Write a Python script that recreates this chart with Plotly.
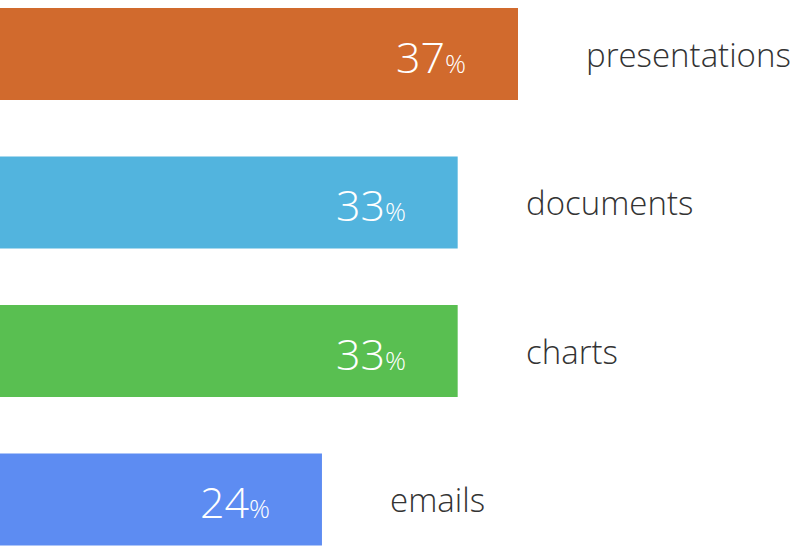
import plotly.graph_objects as go

# data
categories = ['presentations', 'documents', 'charts', 'emails']
values = [37, 33, 33, 24]
colors = ['#D16A2D', '#52B4DE', '#59BF51', '#5D8CF2']

fig = go.Figure()
fig.add_trace(go.Bar(
    x=values, y=categories, orientation='h',
    marker=dict(color=colors, line=dict(width=0)),
    width=0.62, hoverinfo='skip',
))

# percent labels inside bars + category names to the right
for cat, val in zip(categories, values):
    fig.add_annotation(
        x=val, y=cat, xref='x', yref='y', xanchor='right', yanchor='middle',
        xshift=-50, yshift=-2, showarrow=False,
        text=f"{val}<span style='font-size:26px'>%</span>",
        font=dict(family='Open Sans', size=43, color='#FFFFFF', weight=300),
    )
    fig.add_annotation(
        x=val, y=cat, xref='x', yref='y', xanchor='left', yanchor='middle',
        xshift=66, yshift=0, showarrow=False, text=cat,
        font=dict(family='Open Sans', size=33, color='#333333', weight=300),
    )

fig.update_layout(
    width=800, height=551,
    margin=dict(l=0, r=0, t=0, b=0),
    paper_bgcolor='white', plot_bgcolor='white',
    showlegend=False,
    xaxis=dict(range=[2.65, 55.7], visible=False, fixedrange=True),
    yaxis=dict(range=[3.347, -0.364], visible=False, fixedrange=True),
)

# drop the default page margin so the figure sits at the window's corner
fig.write_html("out.html", config={'displayModeBar': False},
               post_script="document.body.style.margin='0';")
